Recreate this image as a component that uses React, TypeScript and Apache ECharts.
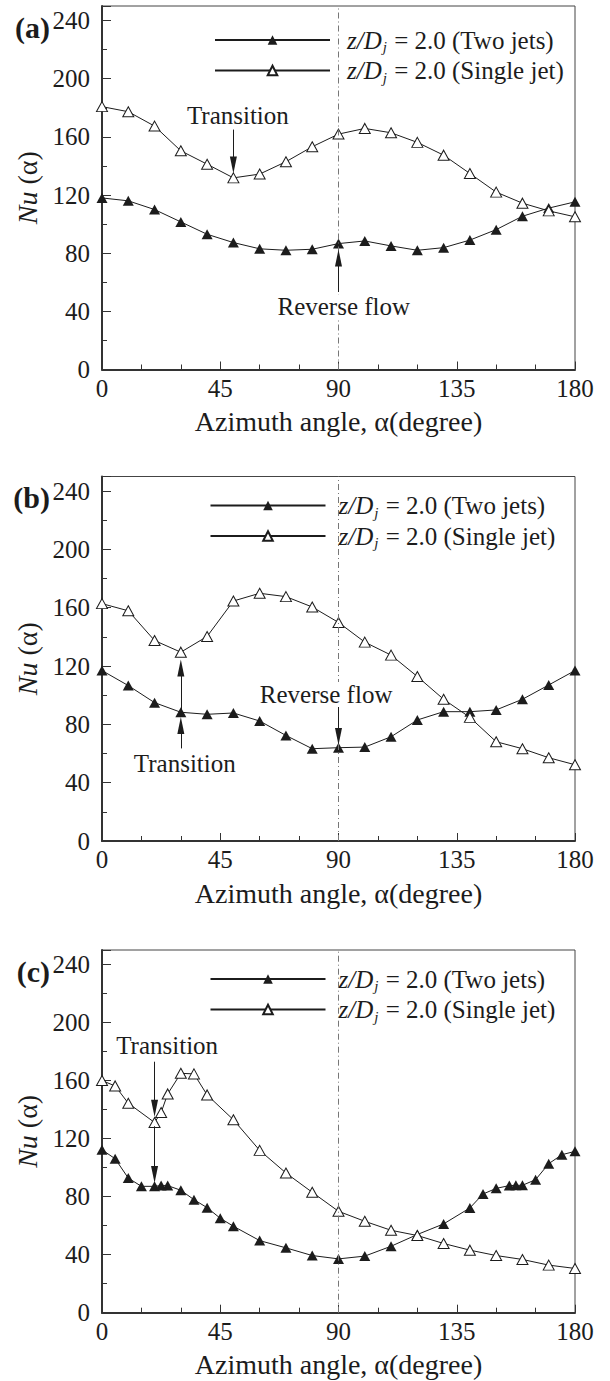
import React, { useEffect, useRef } from 'react';
import * as echarts from 'echarts';

// ---------- data ----------
const panelLabels = ['(a)', '(b)', '(c)'];
const seriesNames = ['Two jets', 'Single jet'];
const xAxisTitle = 'Azimuth angle, α(degree)';

const angles10 = [0, 10, 20, 30, 40, 50, 60, 70, 80, 90, 100, 110, 120, 130, 140, 150, 160, 170, 180];

// panel (a)
const twoJetsA = [118, 116, 110, 101.5, 93, 87.3, 83, 82, 82.7, 86.6, 88.4, 85, 82, 83.8, 89, 96.2, 105.4, 111, 115.3];
const singleJetA = [180.8, 177.3, 167.4, 150.4, 141.2, 131.8, 134.4, 142.9, 153.2, 161.9, 165.8, 162.8, 156.2, 147.4, 134.8, 122, 114.4, 109.1, 105];

// panel (b)
const twoJetsB = [116.9, 106.6, 94.9, 88.3, 86.9, 87.8, 82.3, 72.4, 63.3, 64, 64.4, 71.5, 83, 88.7, 88.7, 89.9, 97.2, 107, 116.9];
const singleJetB = [162.8, 157.9, 137.5, 129.5, 140.3, 164.6, 169.9, 167.6, 160.5, 149.9, 136.4, 127.5, 112.8, 97.2, 84.8, 68.1, 63.3, 57.1, 52.3];

// panel (c)
const anglesTwoC = [0, 5, 10, 15, 20, 22.5, 25, 30, 35, 40, 45, 50, 60, 70, 80, 90, 100, 110, 120, 130, 140, 145, 150, 155, 157.5, 160, 165, 170, 175, 180];
const twoJetsC = [112.3, 106.1, 92.8, 87.1, 87.1, 87.6, 87.6, 84.4, 77.9, 72.4, 65.1, 59.6, 49.7, 44.7, 39.4, 37.1, 39, 45.8, 53.9, 61.2, 72.2, 81.8, 85.7, 87.6, 87.8, 87.8, 91.7, 102.7, 108.9, 111.2];
const anglesSingleC = [0, 5, 10, 20, 22.5, 25, 30, 35, 40, 50, 60, 70, 80, 90, 100, 110, 120, 130, 140, 150, 160, 170, 180];
const singleJetC = [160, 156.3, 144.4, 131.1, 138, 150.8, 165, 164.6, 150.1, 133, 111.9, 96.3, 83, 69.9, 63, 56.8, 53.2, 47.7, 43.1, 39.4, 36.7, 32.8, 30.5];

// annotations (data coordinates)
const notesA = [{ text: 'Transition', x: 51.7, y: 175 }, { text: 'Reverse flow', x: 92, y: 43 }];
const notesB = [{ text: 'Transition', x: 31.5, y: 53.2 }, { text: 'Reverse flow', x: 85.3, y: 100.5 }];
const notesC = [{ text: 'Transition', x: 24.8, y: 184.5 }];

// arrows: [x0, y0, x1, y1] (tail -> head)
const arrowsA = [[50, 165, 50, 140.6], [90, 53.3, 90, 76.7]];
const arrowsB = [[30, 63.5, 30, 79.2], [30, 88, 30, 118.7], [90, 92.1, 90, 71.6]];
const arrowsC = [[20, 173, 20, 141], [20, 128.5, 20, 95.2]];

const refAngle = 90;

// ---------- styling / layout ----------
const FONT = '"Liberation Serif", "Times New Roman", Times, serif';
const INK = '#1c1c1c';
const AXIS = '#333';

const gridTops = [6, 476.5, 950];
const gridHeights = [363.5, 364.5, 362.7];
const legendTops = [15, 479.5, 952];
const legendLefts = [209, 204.5, 204.5];
const legendPadTop = [11, 12, 13];
const legendTextPad = [12, 8, 8];
const labelCentersY = [27, 497.5, 971];

const zip = (xs: number[], ys: number[]) => xs.map((x, i) => [x, ys[i]]);

function buildOption() {
  const panels = [
    { two: zip(angles10, twoJetsA), single: zip(angles10, singleJetA), notes: notesA, arrows: arrowsA },
    { two: zip(angles10, twoJetsB), single: zip(angles10, singleJetB), notes: notesB, arrows: arrowsB },
    { two: zip(anglesTwoC, twoJetsC), single: zip(anglesSingleC, singleJetC), notes: notesC, arrows: arrowsC },
  ];

  const grid: any[] = [];
  const xAxis: any[] = [];
  const yAxis: any[] = [];
  const series: any[] = [];
  const legend: any[] = [];
  const graphic: any[] = [];

  panels.forEach((p, i) => {
    grid.push({
      left: 102,
      right: 35,
      top: gridTops[i],
      height: gridHeights[i],
      show: true,
      borderColor: '#444',
      borderWidth: 1,
      backgroundColor: 'transparent',
    });
    xAxis.push({
      type: 'value',
      gridIndex: i,
      min: 0,
      max: 180,
      interval: 45,
      name: xAxisTitle,
      nameLocation: 'middle',
      nameGap: 38,
      nameTextStyle: { fontFamily: FONT, fontSize: 28, color: INK },
      axisLine: { onZero: false, lineStyle: { color: AXIS, width: 2 } },
      axisTick: { inside: true, length: 8, lineStyle: { color: AXIS, width: 1 } },
      minorTick: { show: true, splitNumber: 3, length: 5, lineStyle: { color: AXIS, width: 1 } },
      axisLabel: { fontFamily: FONT, fontSize: 25, color: INK, margin: 6 },
      splitLine: { show: false },
      minorSplitLine: { show: false },
    });
    // major y axis
    yAxis.push({
      type: 'value',
      gridIndex: i,
      position: 'left',
      min: 0,
      max: 250,
      interval: 40,
      name: '{i|Nu} (α)',
      nameLocation: 'middle',
      nameGap: 59,
      nameTextStyle: {
        fontFamily: FONT,
        fontSize: 28,
        color: INK,
        rich: { i: { fontFamily: FONT, fontSize: 28, fontStyle: 'italic', color: INK } },
      },
      axisLine: { onZero: false, lineStyle: { color: AXIS, width: 2 } },
      axisTick: { inside: true, length: 9, lineStyle: { color: AXIS, width: 1 } },
      axisLabel: {
        fontFamily: FONT,
        fontSize: 25,
        color: INK,
        margin: 12,
        formatter: (v: number) => (v % 40 === 0 ? String(v) : ''),
      },
      splitLine: { show: false },
    });
    // minor y ticks
    yAxis.push({
      type: 'value',
      gridIndex: i,
      position: 'left',
      min: 0,
      max: 250,
      interval: 20,
      axisLine: { show: false },
      axisTick: { inside: true, length: 5, lineStyle: { color: AXIS, width: 1 } },
      axisLabel: { show: false },
      splitLine: { show: false },
    });

    const arrowData = p.arrows.map((a) => [
      { coord: [a[0], a[1]], symbol: 'none' },
      { coord: [a[2], a[3]], symbol: 'triangle', symbolSize: [7, 17] },
    ]);

    series.push({
      type: 'line',
      name: seriesNames[0],
      xAxisIndex: i,
      yAxisIndex: 2 * i,
      data: p.two,
      symbol: 'triangle',
      symbolSize: [11, 10],
      lineStyle: { color: INK, width: 1 },
      itemStyle: { color: INK },
      z: 3,
      markLine: {
        silent: true,
        symbol: ['none', 'none'],
        label: { show: false },
        lineStyle: { color: INK, width: 1, type: 'solid' },
        data: [
          { xAxis: refAngle, lineStyle: { color: '#777', width: 1, type: [6, 3, 1, 3] } },
          ...arrowData,
        ],
      },
    });
    series.push({
      type: 'line',
      name: seriesNames[1],
      xAxisIndex: i,
      yAxisIndex: 2 * i,
      data: p.single,
      symbol: 'triangle',
      symbolSize: [11, 10],
      lineStyle: { color: INK, width: 1 },
      itemStyle: { color: '#fff', borderColor: INK, borderWidth: 1 },
      z: 3,
      markPoint: {
        silent: true,
        symbol: 'rect',
        symbolSize: 1,
        itemStyle: { color: 'rgba(0,0,0,0)' },
        label: {
          show: true,
          position: 'inside',
          fontFamily: FONT,
          fontSize: 25,
          color: INK,
          backgroundColor: '#fff',
          formatter: (prm: any) => prm.name,
        },
        data: p.notes.map((n) => ({ name: n.text, coord: [n.x, n.y] })),
      },
    });

    const pad = legendTextPad[i];
    legend.push({
      orient: 'vertical',
      left: legendLefts[i],
      top: legendTops[i],
      padding: [legendPadTop[i], 5, 6, 5],
      backgroundColor: '#fff',
      itemWidth: 115,
      itemHeight: 12,
      itemGap: 2,
      selectedMode: false,
      data: seriesNames,
      formatter: (name: string) =>
        `{z|z/D}{s|j}{n| = 2.0 (${name === seriesNames[0] ? 'Two jets' : 'Single jet'})}`,
      textStyle: {
        fontFamily: FONT,
        fontSize: 25,
        color: INK,
        lineHeight: 28,
        rich: {
          z: { fontFamily: FONT, fontSize: 25, fontStyle: 'italic', color: INK, padding: [0, 0, 0, pad], lineHeight: 28 },
          s: { fontFamily: FONT, fontSize: 15, fontStyle: 'italic', color: INK, padding: [14, 1, 0, 1] },
          n: { fontFamily: FONT, fontSize: 25, color: INK, lineHeight: 28 },
        },
      },
    });

    graphic.push({
      type: 'text',
      x: 50,
      y: labelCentersY[i],
      style: {
        text: panelLabels[i],
        font: `bold 30px ${FONT}`,
        fill: INK,
        align: 'right',
        verticalAlign: 'middle',
      },
    });
  });

  return {
    animation: false,
    backgroundColor: '#fff',
    grid,
    xAxis,
    yAxis,
    series,
    legend,
    graphic,
  };
}

export default function App() {
  const ref = useRef<HTMLDivElement>(null);
  useEffect(() => {
    document.body.style.margin = '0';
    const chart = echarts.init(ref.current as HTMLDivElement, null, { renderer: 'svg' });
    chart.setOption(buildOption() as any);
    return () => chart.dispose();
  }, []);
  return <div ref={ref} style={{ width: 610, height: 1381 }} />;
}
